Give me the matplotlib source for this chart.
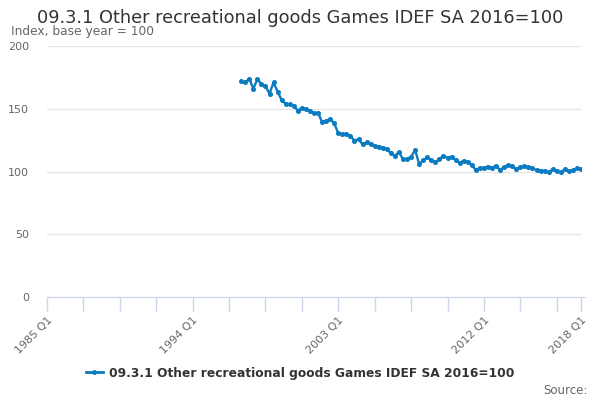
import matplotlib
matplotlib.use("Agg")
import matplotlib.pyplot as plt

title = "09.3.1 Other recreational goods Games IDEF SA 2016=100"
subtitle = "Index, base year = 100"
series_name = "09.3.1 Other recreational goods Games IDEF SA 2016=100"

# Quarters 1985 Q1 .. 2018 Q1 (index 0..132); data from 1997 Q1 (index 48)
start_index = 48
values = [
    172, 171, 174, 166,
    173.5, 169.5, 168, 162,
    171, 163.6, 157, 153.8,
    153.5, 152.5, 148.5, 150.8,
    149.5, 148.2, 146.3, 146.9,
    139.2, 140.5, 141.8, 138.4,
    130.4, 129.9, 130, 128.3,
    124.6, 125.9, 121.6, 123.2,
    121.9, 120.3, 119.5, 119,
    117.7, 114.5, 112.6, 115.5,
    109.7, 110, 111.8, 117,
    106, 109, 111.3, 109.2,
    107.3, 110, 112.4, 111,
    111.8, 109.2, 107, 108.6,
    107.3, 105.2, 101.2, 103,
    103, 103.9, 103, 104.6,
    101.2, 103.6, 105.2, 104.4,
    101.7, 103.3, 104.1, 103.3,
    102.5, 101.2, 100.6, 100.6,
    99.3, 101.7, 100.1, 99.6,
    101.7, 100.1, 100.9, 102.8,
    102,
]
tick_positions = list(range(0, 127, 9)) + [132]
label_positions = [0, 36, 72, 108, 132]
label_texts = ["1985 Q1", "1994 Q1", "2003 Q1", "2012 Q1", "2018 Q1"]
yticks = [0, 50, 100, 150, 200]

x = list(range(start_index, start_index + len(values)))

fig = plt.figure(figsize=(6, 4), dpi=100)
ax = fig.add_axes([47/600, 103/400, 534/600, 251/400])

line_color = "#0b7bc1"
ax.plot(x, values, color=line_color, lw=1.7, marker="o", ms=2.6, zorder=3)

ax.set_xlim(0, 132)
ax.set_ylim(0, 200)
ax.set_yticks(yticks)
ax.set_yticklabels([str(v) for v in yticks], color="#666666", fontsize=8)
ax.grid(axis="y", color="#e6e6e6", lw=1)
ax.set_axisbelow(True)

ax.set_xticks(tick_positions)
ax.set_xticklabels([label_texts[label_positions.index(p)] if p in label_positions else "" for p in tick_positions],
                   rotation=45, ha="right", rotation_mode="anchor", color="#666666", fontsize=8)
ax.tick_params(axis="x", length=10, color="#ccd6eb", width=1, pad=3)
ax.tick_params(axis="y", length=0, pad=13)

for s in ["top", "right", "left"]:
    ax.spines[s].set_visible(False)
ax.spines["bottom"].set_color("#ccd6eb")
ax.spines["bottom"].set_bounds(0, 133)

fig.text(0.5, 0.955, title, ha="center", va="center", fontsize=12.8, color="#333333")
fig.text(11/600, 0.92, subtitle, ha="left", va="center", fontsize=8.8, color="#666666")

fig.legend([plt.Line2D([], [], color=line_color, lw=2, marker="o", ms=2.5)], [series_name],
           loc="center", bbox_to_anchor=(0.5, 1 - 373/400), frameon=False,
           prop={"weight": "bold", "size": 8.8}, labelcolor="#333333", handlelength=1.4, handletextpad=0.5)
fig.text(588/600, 1 - 390/400, "Source:", ha="right", va="center", fontsize=8.5, color="#666666")

fig.savefig("out.png", dpi=100)
